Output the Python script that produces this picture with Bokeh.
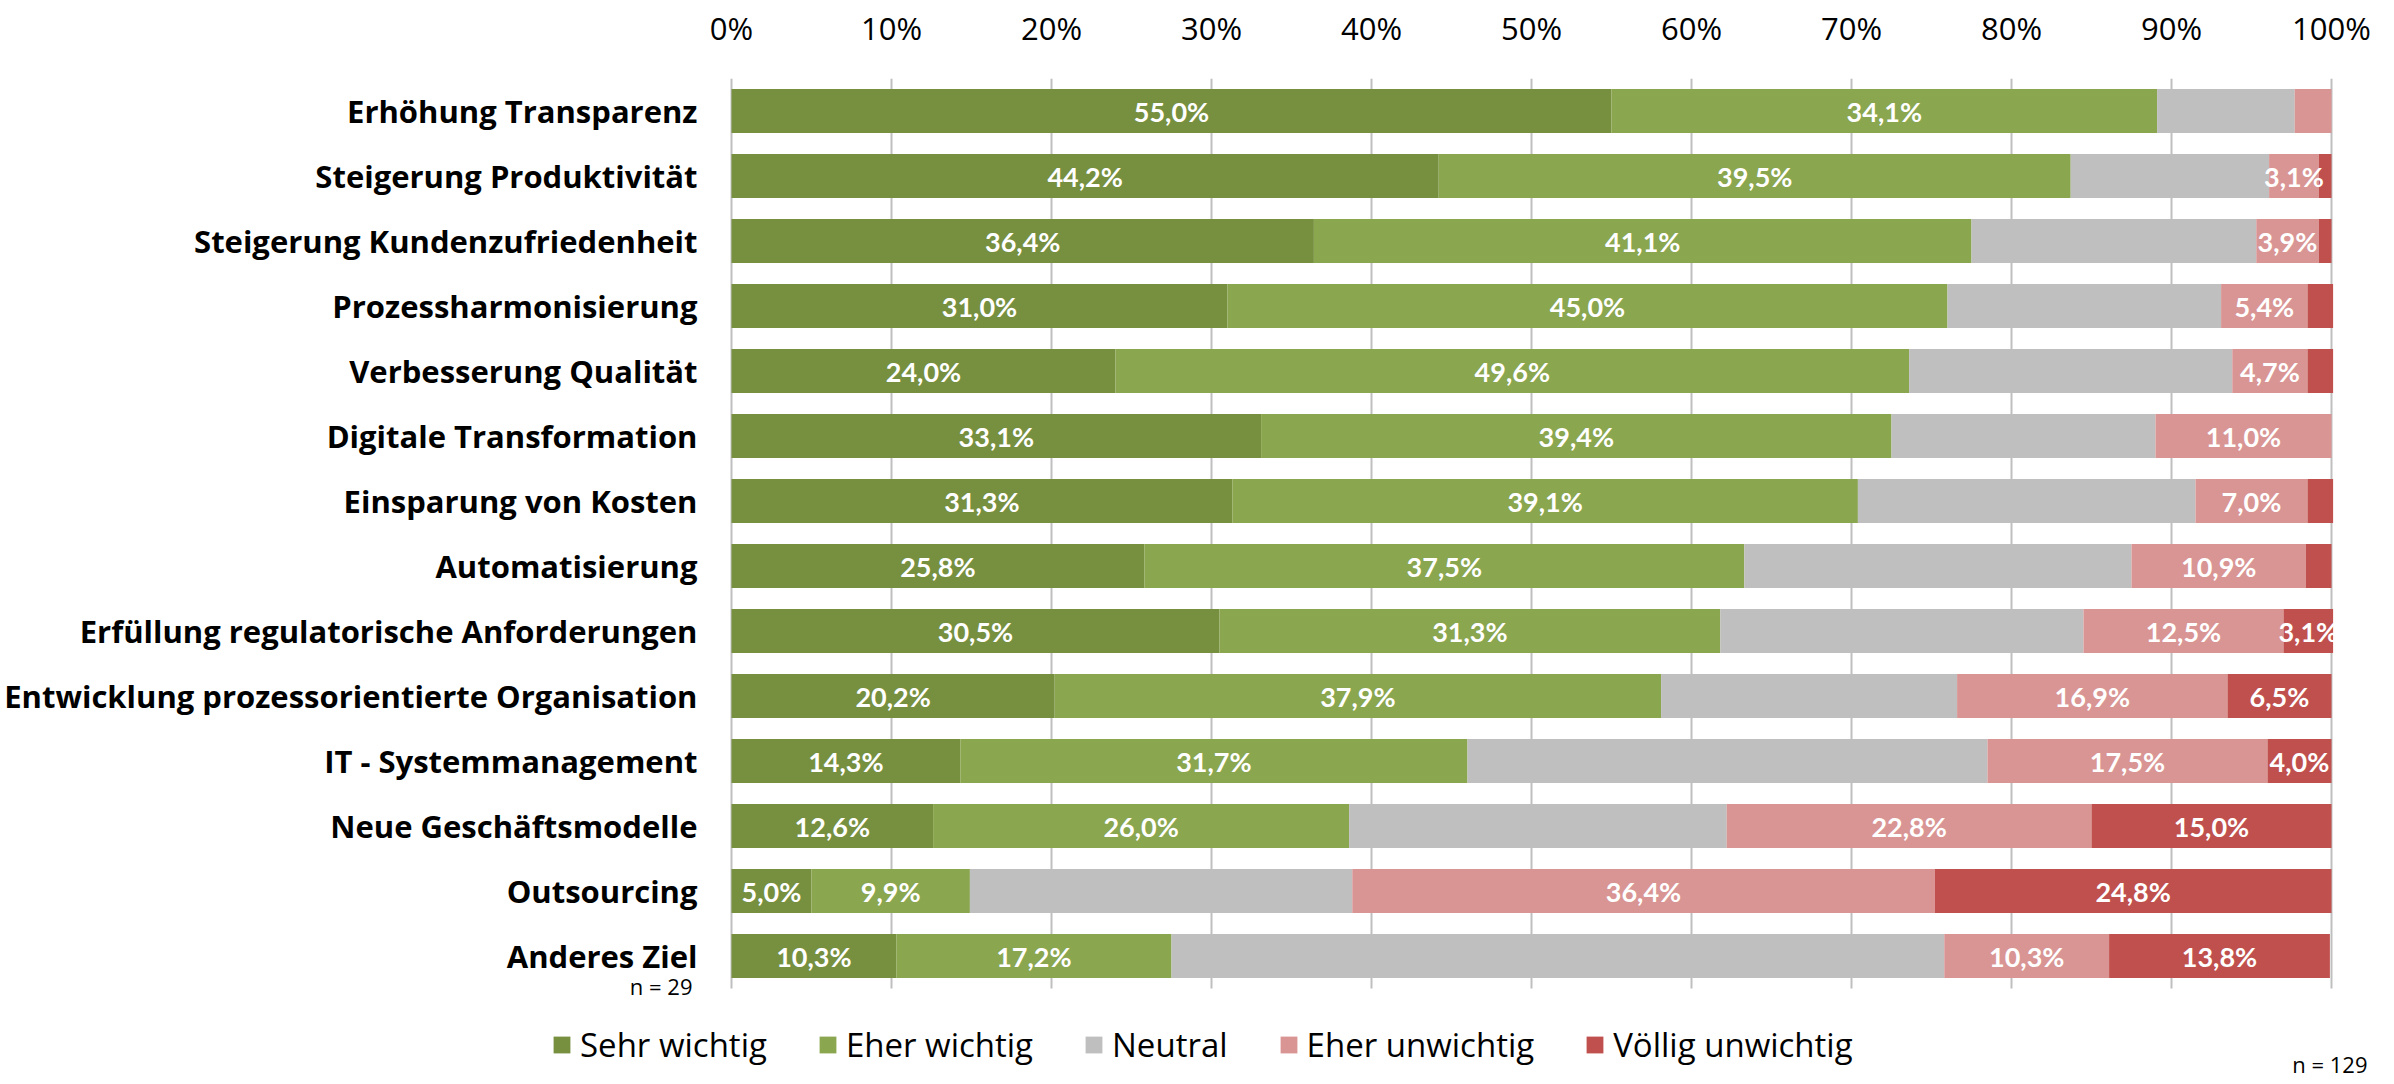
from bokeh.plotting import figure
from bokeh.models import (ColumnDataSource, Range1d, FixedTicker,
                          PrintfTickFormatter, Label)
from bokeh.core.properties import value
from bokeh.embed import file_html
from bokeh.resources import INLINE

# Survey: importance of process-management goals (share of answers in %)
categories = [
    "Erhöhung Transparenz",
    "Steigerung Produktivität",
    "Steigerung Kundenzufriedenheit",
    "Prozessharmonisierung",
    "Verbesserung Qualität",
    "Digitale Transformation",
    "Einsparung von Kosten",
    "Automatisierung",
    "Erfüllung regulatorische Anforderungen",
    "Entwicklung prozessorientierte Organisation",
    "IT - Systemmanagement",
    "Neue Geschäftsmodelle",
    "Outsourcing",
    "Anderes Ziel",
]

series_names = ["Sehr wichtig", "Eher wichtig", "Neutral", "Eher unwichtig", "Völlig unwichtig"]

sehr_wichtig = [55.0, 44.2, 36.4, 31.0, 24.0, 33.1, 31.3, 25.8, 30.5, 20.2, 14.3, 12.6, 5.0, 10.3]
eher_wichtig = [34.1, 39.5, 41.1, 45.0, 49.6, 39.4, 39.1, 37.5, 31.3, 37.9, 31.7, 26.0, 9.9, 17.2]
neutral = [8.6, 12.4, 17.8, 17.1, 20.2, 16.5, 21.1, 24.2, 22.7, 18.5, 32.5, 23.6, 23.9, 48.3]
eher_unwichtig = [2.3, 3.1, 3.9, 5.4, 4.7, 11.0, 7.0, 10.9, 12.5, 16.9, 17.5, 22.8, 36.4, 10.3]
voellig_unwichtig = [0.0, 0.8, 0.8, 1.6, 1.6, 0.0, 1.6, 1.6, 3.1, 6.5, 4.0, 15.0, 24.8, 13.8]

# which segments carry a value label
show_sehr = [True] * 14
show_eher = [True] * 14
show_neutral = [False] * 14
show_unwichtig = [False] + [True] * 13
show_voellig = [False] * 8 + [True] * 6

tick_values = [0, 10, 20, 30, 40, 50, 60, 70, 80, 90, 100]
colors = ["#77903F", "#8AA64F", "#BFBFBF", "#D99594", "#C0504D"]

series = [sehr_wichtig, eher_wichtig, neutral, eher_unwichtig, voellig_unwichtig]
shows = [show_sehr, show_eher, show_neutral, show_unwichtig, show_voellig]

# categories are stacked top to bottom: first one gets the highest row number
n_cat = len(categories)
rows = [n_cat - i for i in range(n_cat)]

data = {"row": rows}
for name, vals in zip(series_names, series):
    data[name] = vals
source = ColumnDataSource(data)

# x: 16 px per percent, 0 % at x=731; y: one row = 65 px, rows 1..14
p = figure(width=2394, height=1084,
           x_range=Range1d(-11.25, 103.9375),
           y_range=Range1d(-0.9769, 14.5),
           x_axis_location="above",
           output_backend="svg", toolbar_location=None,
           min_border_left=551, min_border_right=0,
           min_border_top=78, min_border_bottom=0)
p.outline_line_color = None
p.background_fill_color = "white"
p.grid.visible = False

# vertical gridlines over the category area only
p.segment(x0=tick_values, x1=tick_values,
          y0=[0.5] * len(tick_values), y1=[n_cat + 0.5] * len(tick_values),
          line_color="#BFBFBF", line_width=2)

p.hbar_stack(series_names, y="row", height=0.677, color=colors, line_color=None,
             source=source, legend_label=series_names)

# value labels centred in their segments
lx, ly, lt = [], [], []
for i, r in enumerate(rows):
    left = 0.0
    for vals, show in zip(series, shows):
        v = vals[i]
        if show[i]:
            lx.append(left + v / 2)
            ly.append(r)
            lt.append(f"{v:.1f}".replace(".", ",") + "%")
        left += v
p.text(x="x", y="y", text="t", source=ColumnDataSource(dict(x=lx, y=ly, t=lt)),
       text_font=value("Lato"), text_font_style="bold", text_font_size="27px",
       text_color="white", text_align="center", text_baseline="middle")

# percent axis on top
xa = p.xaxis[0]
xa.ticker = FixedTicker(ticks=tick_values)
xa.formatter = PrintfTickFormatter(format="%d%%")
xa.major_label_text_font = "Open Sans"
xa.major_label_text_font_size = "31px"
xa.major_label_text_color = "black"
xa.axis_line_color = None
xa.major_tick_line_color = None
xa.minor_tick_line_color = None
xa.major_label_standoff = 24

# category axis on the left
ya = p.yaxis[0]
ya.ticker = FixedTicker(ticks=rows)
ya.major_label_overrides = {r: c for r, c in zip(rows, categories)}
ya.major_label_text_font = "Open Sans"
ya.major_label_text_font_style = "bold"
ya.major_label_text_font_size = "31px"
ya.major_label_text_color = "black"
ya.axis_line_color = None
ya.major_tick_line_color = None
ya.minor_tick_line_color = None
ya.major_label_standoff = -152

# legend row below the bars
lg = p.legend[0]
lg.orientation = "horizontal"
lg.location = (0, 17)
lg.glyph_width = 21
lg.glyph_height = 21
lg.label_height = 21
lg.label_standoff = 8
lg.spacing = 50
lg.padding = 0
lg.margin = 0
lg.border_line_color = None
lg.background_fill_alpha = 0
lg.label_text_font = "Open Sans"
lg.label_text_font_size = "33px"
lg.label_text_color = "black"
lg.label_text_baseline = "middle"

# sample sizes
p.add_layout(Label(x=-2.44, y=0.531, text="n = 29", text_font="Open Sans",
                   text_font_size="22px", text_align="right", text_baseline="middle",
                   text_color="black"))
p.add_layout(Label(x=102.25, y=-0.654, text="n = 129", text_font="Open Sans",
                   text_font_size="22px", text_align="right", text_baseline="middle",
                   text_color="black"))

open("out.html", "w").write(file_html(p, INLINE))
